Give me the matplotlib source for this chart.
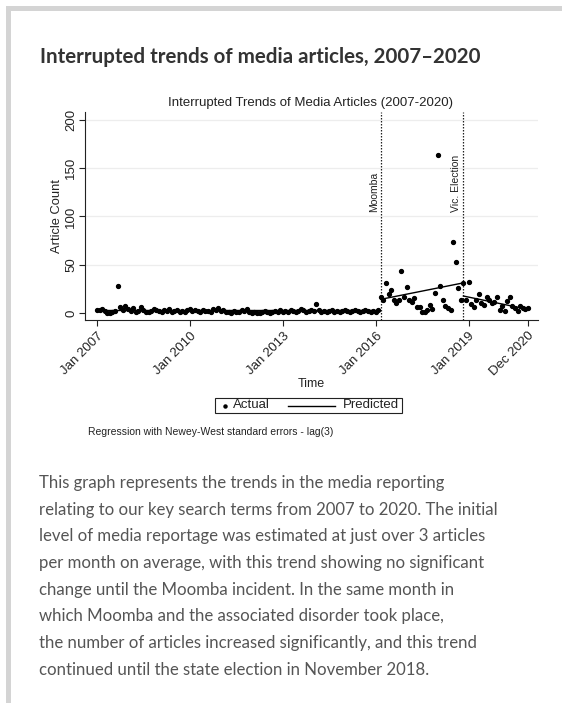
import matplotlib
matplotlib.use("Agg")
import matplotlib.pyplot as plt
from matplotlib.patches import Rectangle
from matplotlib.lines import Line2D
import numpy as np

W, H = 562, 703

# ---------------- data ----------------
pre_counts = [3,3,4,2,0,0,1,2,28,6,3,7,
              4,2,5,1,2,6,3,1,1,2,4,3,
              2,1,3,2,4,1,2,3,1,2,1,3,
              4,2,3,2,1,3,2,2,1,4,3,5,
              2,3,1,1,0,2,1,1,3,2,4,1,
              0,1,0,0,1,2,1,0,1,2,1,3,
              1,2,1,3,2,1,2,4,3,1,2,3,
              2,9,3,1,2,1,2,3,1,2,1,2,
              3,2,1,2,3,2,1,2,3,2,1,2,
              1,3]
moomba_counts = [17,13,31,20,24,14,10,13,43,17,27,13,11,16,6,6,1,1,3,8,
                 4,21,164,28,14,7,5,3,74,53,26,14]
election_counts = [31,14,32,9,6,13,20,10,8,17,13,10,11,17,3,7,2,12,17,7,
                   5,2,7,5,4,5]

pred_start_month = [0, 110, 142]
pred_end_month = [109, 141, 167]
pred_start_val = [3.2, 14.2, 17.6]
pred_end_val = [3.2, 30.7, 3.8]

event_months = [110, 142]
event_labels = ["Moomba", "Vic. Election"]

xtick_months = [0, 36, 72, 108, 144, 167]
xtick_labels = ["Jan 2007", "Jan 2010", "Jan 2013", "Jan 2016", "Jan 2019", "Dec 2020"]
ytick_vals = [0, 50, 100, 150, 200]

heading = "Interrupted trends of media articles, 2007\u20132020"
chart_title = "Interrupted Trends of Media Articles (2007-2020)"
note = "Regression with Newey-West standard errors - lag(3)"
paragraph = [
    "This graph represents the trends in the media reporting",
    "relating to our key search terms from 2007 to 2020. The initial",
    "level of media reportage was estimated at just over 3 articles",
    "per month on average, with this trend showing no significant",
    "change until the Moomba incident. In the same month in",
    "which Moomba and the associated disorder took place,",
    "the number of articles increased significantly, and this trend",
    "continued until the state election in November 2018.",
]

counts = pre_counts + moomba_counts + election_counts
months = np.arange(len(counts))

# ---------------- figure ----------------
fig = plt.figure(figsize=(W / 100, H / 100), dpi=100)
fig.patch.set_facecolor("white")

def fx(x):
    return x / W

def fy(y):
    return 1 - y / H

border = "#d4d4d4"
fig.add_artist(Rectangle((fx(6), fy(11)), fx(W) - fx(6), fy(6) - fy(11),
                         transform=fig.transFigure, color=border, lw=0))
fig.add_artist(Rectangle((fx(6), 0), fx(11) - fx(6), fy(6),
                         transform=fig.transFigure, color=border, lw=0))

fig.text(fx(40), fy(63), heading, family="Lato", weight="bold", fontsize=14.8,
         color="#333333", ha="left", va="baseline")

CF = "Liberation Sans"
ax_l, ax_r, ax_t, ax_b = 85, 538, 112, 320
ax = fig.add_axes([fx(ax_l), fy(ax_b), fx(ax_r) - fx(ax_l), fy(ax_t) - fy(ax_b)])
ax.set_xlim(-4.65, 170.9)
ax.set_ylim(-7.2, 208)
for s in ["top", "right"]:
    ax.spines[s].set_visible(False)
for s in ["left", "bottom"]:
    ax.spines[s].set_color("#222222")
    ax.spines[s].set_linewidth(0.8)

ax.set_yticks(ytick_vals)
ax.set_yticklabels([str(v) for v in ytick_vals], rotation=90, va="center",
                   family=CF, fontsize=9.5, color="#222222")
ax.set_xticks(xtick_months)
ax.set_xticklabels(xtick_labels, rotation=45, ha="right", va="top",
                   rotation_mode="anchor", family=CF, fontsize=9.5, color="#222222")
ax.tick_params(axis="both", length=4, width=0.8, color="#222222")
ax.tick_params(axis="y", pad=1.5)
ax.tick_params(axis="x", pad=3)
for v in ytick_vals[1:]:
    ax.axhline(v, color="#ededed", lw=0.9, zorder=0)

for m, lab in zip(event_months, event_labels):
    ax.axvline(m, color="#222222", lw=0.9, ls=(0, (1.2, 1.2)), zorder=1)
    ax.text(m - 0.8, 104.5, lab, rotation=90, ha="right", va="bottom",
            family=CF, fontsize=7.5, color="#222222")

ax.plot(months, counts, ls="none", marker="o", ms=2.8, color="black",
        mec="black", zorder=3)
for m0, m1, v0, v1 in zip(pred_start_month, pred_end_month, pred_start_val, pred_end_val):
    ax.plot([m0, m1], [v0, v1], color="black", lw=1.0, zorder=4)

fig.text(fx(311), fy(384), "Time", family=CF, fontsize=9, color="#222222",
         ha="center", va="center")
fig.text(fx(57), fy(216), "Article Count", family=CF, fontsize=9.3, color="#222222",
         ha="center", va="center", rotation=90)

fig.text(fx(311), fy(103), chart_title, family=CF, fontsize=9.5, color="#222222",
         ha="center", va="center")

# legend box (manual)
lx0, lx1, ly0, ly1 = 215, 402, 398, 413
fig.add_artist(Rectangle((fx(lx0), fy(ly1)), fx(lx1) - fx(lx0), fy(ly0) - fy(ly1),
                         transform=fig.transFigure, fill=False, ec="#222222", lw=0.8))
ly = (ly0 + ly1) / 2
fig.add_artist(Line2D([fx(225)], [fy(ly)], marker="o", ms=2.2, color="black",
                      transform=fig.transFigure))
fig.text(fx(233), fy(ly), "Actual", family=CF, fontsize=9.5, color="#222222",
         ha="left", va="center")
fig.add_artist(Line2D([fx(288), fx(335)], [fy(ly), fy(ly)], color="black", lw=1.0,
                      transform=fig.transFigure))
fig.text(fx(343), fy(ly), "Predicted", family=CF, fontsize=9.5, color="#222222",
         ha="left", va="center")

fig.text(fx(88), fy(432), note, family=CF, fontsize=7.5, color="#222222",
         ha="left", va="center")

y0 = 488
for i, line in enumerate(paragraph):
    fig.text(fx(39), fy(y0 + i * 26.7), line, family="Lato", weight="normal",
             fontsize=12.1, color="#555555", ha="left", va="baseline")

fig.savefig("out.png", dpi=100, facecolor="white")
